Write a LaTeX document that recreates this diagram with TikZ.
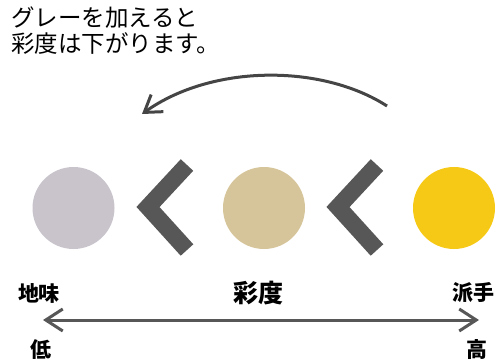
\documentclass[tikz,border=0pt]{standalone}
\usepackage{fontspec}
\newfontfamily\cjk{Noto Sans CJK JP}
\usetikzlibrary{arrows.meta}
\definecolor{greyc}{HTML}{C9C4CC}
\definecolor{beigec}{HTML}{D6C59A}
\definecolor{yellowc}{HTML}{F6C916}
\definecolor{chevc}{HTML}{575757}
\definecolor{arrc}{HTML}{454545}
\tikzset{
  dot/.style={circle, minimum size=82pt, inner sep=0pt, draw=none},
  chev/.style={draw=chevc, line width=17pt, line join=miter, line cap=butt},
  toptext/.style={anchor=west, inner sep=0pt, font=\cjk\fontsize{23.5}{26}\selectfont, text=black},
  lab/.style={inner sep=0pt, font=\cjk\bfseries\fontsize{21}{24}\selectfont, text=black},
  biglab/.style={inner sep=0pt, font=\cjk\bfseries\fontsize{25}{28}\selectfont, text=black},
  curvearrow/.style={draw=arrc, line width=3pt, -{Straight Barb[length=16pt, width=21pt, line width=3pt]}},
  scalearrow/.style={draw=chevc, line width=3pt, {Straight Barb[length=17pt, width=22pt, line width=3pt]}-{Straight Barb[length=17pt, width=22pt, line width=3pt]}}
}
\begin{document}
\begin{tikzpicture}[x=1pt, y=-1pt]
\useasboundingbox (0,0) rectangle (504,362);
% top text
\node[toptext] (t1) at (11,18) {グレーを加えると};
\node[toptext] (t2) at (11,44) {彩度は下がります。};
% curved arrow
\coordinate (cs) at (387,106);
\coordinate (ce) at (142,114);
\draw[curvearrow] (cs) .. controls (322,64) and (212,64) .. (ce);
% circles
\node[dot, fill=greyc] (c1) at (73.5,208) {};
\node[dot, fill=beigec] (c2) at (264,208) {};
\node[dot, fill=yellowc] (c3) at (454,208) {};
% chevrons
\draw[chev] (187,165) -- (148,207) -- (187,250);
\draw[chev] (377,165) -- (338,207) -- (377,250);
% labels
\node[lab] (l1) at (39,293) {地味};
\node[biglab] (l2) at (258,293) {彩度};
\node[lab] (l3) at (473,293) {派手};
\coordinate (al) at (43,320);
\coordinate (ar) at (479,320);
\draw[scalearrow] (al) -- (ar);
\node[lab] (lo) at (41,350) {低};
\node[lab] (hi) at (477,350) {高};
\end{tikzpicture}
\end{document}
